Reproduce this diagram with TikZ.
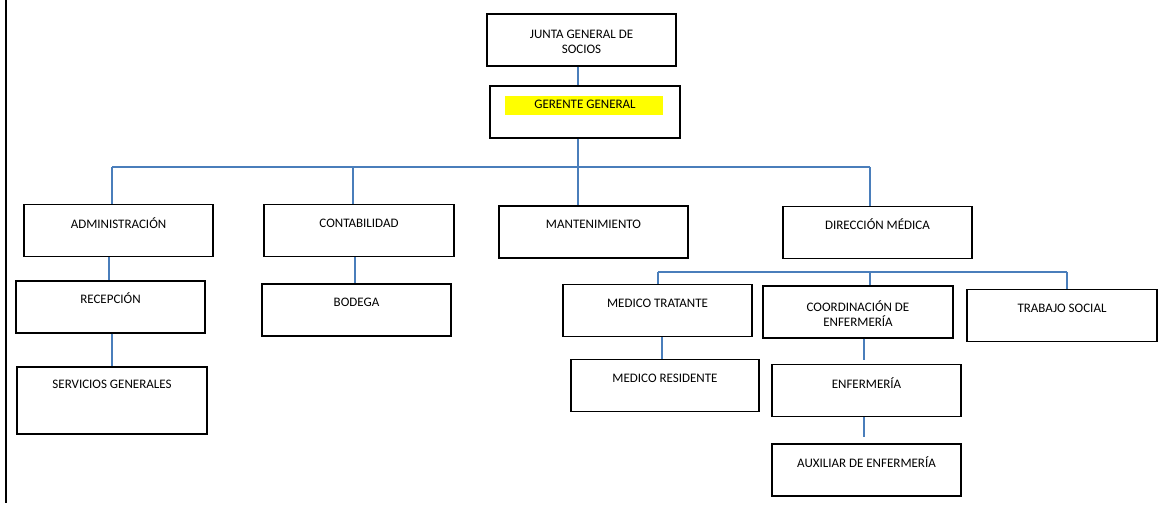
\documentclass[tikz,border=0pt]{standalone}
\usepackage{fontspec}
\setmainfont{Carlito}
\usetikzlibrary{calc}
\definecolor{connblue}{HTML}{4A7EBB}
\definecolor{hiyellow}{HTML}{FFFF00}
\begin{document}
\begin{tikzpicture}[x=1pt,y=-1pt,
  box/.style={draw=black,line width=1.3pt,fill=white,inner sep=0pt,minimum width=#1,minimum height=52pt},
  box/.default=189pt,
  lbl/.style={font=\fontsize{13}{15.5}\selectfont,inner sep=0pt,align=center},
  conn/.style={draw=connblue,line width=2.2pt}]
\useasboundingbox (0,0) rectangle (1176,505);
\draw[line width=2pt] (6,0) -- (6,503);
% boxes
\node[box] (junta) at (581.5,40) {};
\node[box=190pt] (gerente) at (585,112) {};
\node[box] (adm) at (118.5,230.5) {};
\node[box=190pt] (con) at (359,230.5) {};
\node[box] (man) at (593.5,232) {};
\node[box] (dir) at (877.5,232.5) {};
\node[box] (rec) at (110.5,307) {};
\node[box=190pt,minimum height=67pt] (ser) at (112,400.5) {};
\node[box] (bod) at (356.5,310) {};
\node[box] (mtr) at (657.5,310.5) {};
\node[box=188pt] (mre) at (665,385.5) {};
\node[box=190pt] (coo) at (858,312) {};
\node[box] (enf) at (866.5,390.5) {};
\node[box] (aux) at (866.5,470) {};
\node[box=190pt] (tra) at (1062,315.5) {};
% labels
\node[lbl] at ($(junta.north)+(0,28.5)$) {JUNTA GENERAL DE\\SOCIOS};
\fill[hiyellow] (505,96) rectangle (663,115);
\node[lbl] at ($(gerente.north)+(0,19)$) {GERENTE GENERAL};
\node[lbl] at ($(adm.north)+(0,19)$) {ADMINISTRACIÓN};
\node[lbl] at ($(con.north)+(0,19)$) {CONTABILIDAD};
\node[lbl] at ($(man.north)+(0,19)$) {MANTENIMIENTO};
\node[lbl] at ($(dir.north)+(0,18.5)$) {DIRECCIÓN MÉDICA};
\node[lbl] at ($(rec.north)+(0,18)$) {RECEPCIÓN};
\node[lbl] at ($(ser.north)+(0,18)$) {SERVICIOS GENERALES};
\node[lbl] at ($(bod.north)+(0,19)$) {BODEGA};
\node[lbl] at ($(mtr.north)+(0,19)$) {MEDICO TRATANTE};
\node[lbl] at ($(mre.north)+(0,19)$) {MEDICO RESIDENTE};
\node[lbl] at ($(coo.north)+(0,28)$) {COORDINACIÓN DE\\ENFERMERÍA};
\node[lbl] at ($(enf.north)+(0,19)$) {ENFERMERÍA};
\node[lbl] at ($(aux.north)+(0,19)$) {AUXILIAR DE ENFERMERÍA};
\node[lbl] at ($(tra.north)+(0,19)$) {TRABAJO SOCIAL};
% connector x positions
\coordinate (xg) at (578,0);
\coordinate (xa) at (112,0);
\coordinate (xar) at (109,0);
\coordinate (xc) at (353,0);
\coordinate (xcb) at (355,0);
\coordinate (xd) at (870,0);
\coordinate (xm) at (658,0);
\coordinate (xmr) at (662,0);
\coordinate (xe) at (864,0);
\coordinate (xt) at (1067,0);
\coordinate (bus1) at (0,167);
\coordinate (bus2) at (0,272);
% connectors
\draw[conn] (xg |- junta.south) -- (xg |- gerente.north);
\draw[conn] (xg |- gerente.south) -- (xg |- man.north);
\draw[conn] (xa |- bus1) -- (xd |- bus1);
\draw[conn] (xa |- bus1) -- (xa |- adm.north);
\draw[conn] (xc |- bus1) -- (xc |- con.north);
\draw[conn] (xd |- bus1) -- (xd |- dir.north);
\draw[conn] (xar |- adm.south) -- (xar |- rec.north);
\draw[conn] (xa |- rec.south) -- (xa |- ser.north);
\draw[conn] (xcb |- con.south) -- (xcb |- bod.north);
\draw[conn] (xm |- bus2) -- (xt |- bus2);
\draw[conn] (xm |- bus2) -- (xm |- mtr.north);
\draw[conn] (xd |- bus2) -- (xd |- coo.north);
\draw[conn] (xt |- bus2) -- (xt |- tra.north);
\draw[conn] (xmr |- mtr.south) -- (xmr |- mre.north);
\draw[conn,shorten >=4pt] (xe |- coo.south) -- (xe |- enf.north);
\draw[conn,shorten >=6pt] (xe |- enf.south) -- (xe |- aux.north);
\end{tikzpicture}
\end{document}
